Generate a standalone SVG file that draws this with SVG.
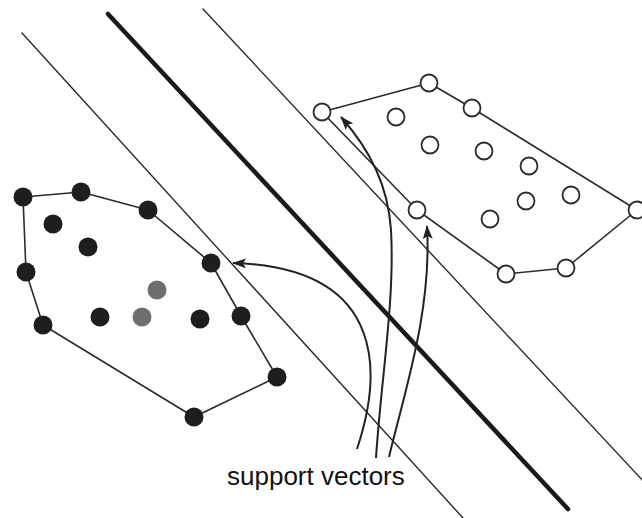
<svg xmlns="http://www.w3.org/2000/svg" width="642" height="518" viewBox="0 0 642 518">
  <style>
    .margin { stroke: #2b2b2b; stroke-width: 1.4; fill: none; stroke-linecap: round; }
    .boundary { stroke: #1a1a1a; stroke-width: 4.5; fill: none; stroke-linecap: round; }
    .hull { stroke: #2b2b2b; stroke-width: 1.6; fill: none; stroke-linejoin: round; }
    .pos { fill: #1e1e1e; }
    .mid { fill: #6f6f6f; }
    .neg { fill: #ffffff; stroke: #2b2b2b; stroke-width: 1.8; }
    .pointer { stroke: #222; stroke-width: 2; fill: none; marker-end: url(#head); }
    .label { font-family: "Liberation Sans", Arial, sans-serif; font-size: 26px; fill: #111; }
  </style>
  <defs>
    <marker id="head" markerWidth="15" markerHeight="10" refX="13" refY="5" orient="auto" markerUnits="userSpaceOnUse">
      <path d="M0,0 L14,5 L0,10 L3,5 Z" fill="#222"/>
    </marker>
  </defs>
  <rect width="642" height="518" fill="#ffffff"/>

  <!-- margin lines and separating hyperplane -->
  <g id="hyperplanes">
    <line class="margin" x1="22" y1="33" x2="463" y2="518"/>
    <line class="boundary" x1="108" y1="14" x2="568" y2="509"/>
    <line class="margin" x1="203" y1="9" x2="645" y2="483"/>
  </g>

  <!-- filled class: convex hull and points -->
  <g id="class-filled">
    <polygon class="hull" points="23,197 81,192 148,210 211,263 241,316 277,377 194,417 43,325 26,272"/>
    <circle class="pos" cx="23" cy="197" r="9.5"/>
    <circle class="pos" cx="81" cy="192" r="9.5"/>
    <circle class="pos" cx="148" cy="210" r="9.5"/>
    <circle class="pos" cx="211" cy="263" r="9.5"/>
    <circle class="pos" cx="241" cy="316" r="9.5"/>
    <circle class="pos" cx="277" cy="377" r="9.5"/>
    <circle class="pos" cx="194" cy="417" r="9.5"/>
    <circle class="pos" cx="43" cy="325" r="9.5"/>
    <circle class="pos" cx="26" cy="272" r="9.5"/>
    <circle class="pos" cx="53" cy="224" r="9.5"/>
    <circle class="pos" cx="88" cy="247" r="9.5"/>
    <circle class="pos" cx="100" cy="317" r="9.5"/>
    <circle class="pos" cx="200" cy="319" r="9.5"/>
    <circle class="mid" cx="157" cy="290" r="9.5"/>
    <circle class="mid" cx="142" cy="317" r="9.5"/>
  </g>

  <!-- open class: convex hull and points -->
  <g id="class-open">
    <polygon class="hull" points="322,112 429,83 472,108 637,210 566,268 506,274 417,210"/>
    <circle class="neg" cx="322" cy="112" r="8.5"/>
    <circle class="neg" cx="429" cy="83" r="8.5"/>
    <circle class="neg" cx="472" cy="108" r="8.5"/>
    <circle class="neg" cx="637" cy="210" r="8.5"/>
    <circle class="neg" cx="566" cy="268" r="8.5"/>
    <circle class="neg" cx="506" cy="274" r="8.5"/>
    <circle class="neg" cx="417" cy="210" r="8.5"/>
    <circle class="neg" cx="396" cy="117" r="8.5"/>
    <circle class="neg" cx="430" cy="145" r="8.5"/>
    <circle class="neg" cx="484" cy="151" r="8.5"/>
    <circle class="neg" cx="529" cy="166" r="8.5"/>
    <circle class="neg" cx="571" cy="195" r="8.5"/>
    <circle class="neg" cx="526" cy="201" r="8.5"/>
    <circle class="neg" cx="490" cy="219" r="8.5"/>
  </g>

  <!-- pointers to the support vectors -->
  <g id="connectors">
    <path class="pointer" d="M357,449 C380,380 392,268 233,263"/>
    <path class="pointer" d="M376,458 C381,380 395,300 391,230 C388,185 370,150 341,117"/>
    <path class="pointer" d="M389,457 C405,390 432,310 427,226"/>
  </g>

  <g id="caption">
    <text class="label" x="227" y="485">support vectors</text>
  </g>
</svg>
